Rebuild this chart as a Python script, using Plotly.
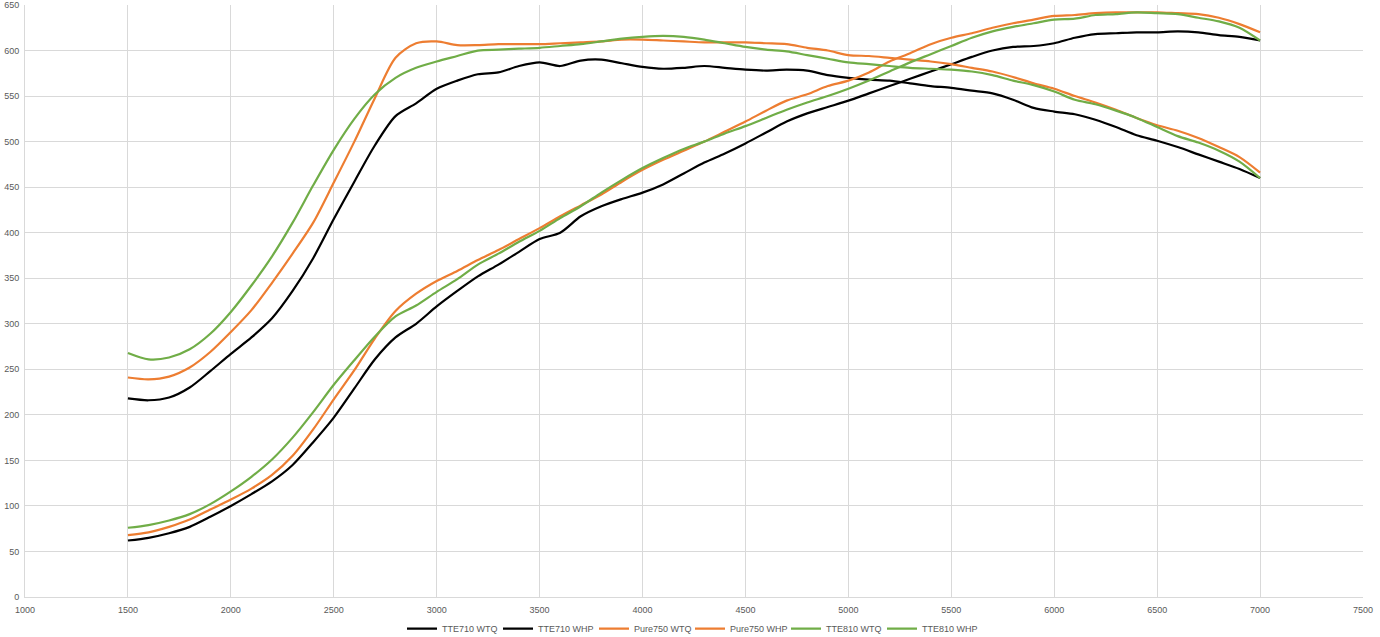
import plotly.graph_objects as go

rpm = list(range(1500, 7001, 100))

tte710_wtq = [218, 216, 219, 230, 248, 267, 285, 306, 336, 372, 415, 456, 496, 528, 542, 558, 567, 574, 576, 583,
              587, 583, 589, 590, 586, 582, 580, 581, 583, 581, 579, 578, 579, 578, 573, 570, 568, 567, 564, 561,
              559, 556, 553, 546, 537, 533, 530, 524, 516, 507, 501, 494, 486, 478, 470, 460]
tte710_whp = [62, 65, 70, 77, 88, 100, 113, 127, 145, 170, 197, 229, 261, 285, 300, 319, 336, 352, 365, 379,
              393, 400, 418, 429, 437, 444, 453, 465, 477, 487, 498, 510, 522, 531, 538, 545, 553, 561, 569, 577,
              585, 593, 600, 604, 605, 608, 614, 618, 619, 620, 620, 621, 620, 617, 615, 611]
pure750_wtq = [241, 239, 242, 252, 269, 291, 315, 345, 377, 411, 455, 500, 548, 592, 608, 610, 606, 606, 607, 607,
               607, 608, 609, 610, 612, 612, 611, 610, 609, 609, 609, 608, 607, 603, 600, 595, 594, 592, 590, 588,
               585, 581, 577, 571, 564, 558, 550, 543, 535, 526, 518, 512, 504, 494, 483, 466]
pure750_whp = [68, 71, 77, 85, 96, 107, 119, 134, 155, 184, 217, 249, 284, 314, 333, 347, 358, 370, 381, 393,
               405, 418, 430, 442, 456, 469, 480, 490, 500, 511, 522, 534, 545, 552, 561, 567, 576, 588, 597, 607,
               614, 619, 625, 630, 634, 638, 639, 641, 642, 642, 642, 641, 640, 636, 629, 620]
tte810_wtq = [268, 261, 263, 272, 289, 313, 342, 374, 411, 452, 491, 525, 552, 570, 581, 588, 594, 600, 601, 602,
              603, 605, 607, 610, 613, 615, 616, 615, 612, 608, 604, 601, 599, 595, 591, 587, 585, 583, 581, 580,
              579, 577, 573, 567, 562, 555, 546, 541, 534, 526, 516, 506, 499, 490, 478, 460]
tte810_whp = [76, 79, 84, 91, 102, 116, 132, 151, 175, 203, 233, 260, 286, 308, 320, 335, 349, 365, 377, 390,
              402, 416, 429, 444, 458, 471, 482, 492, 500, 509, 517, 526, 535, 543, 550, 558, 567, 577, 587, 596,
              605, 614, 621, 626, 630, 634, 635, 639, 640, 642, 641, 640, 636, 632, 625, 611]

series = [
    ("TTE710 WTQ", tte710_wtq, "#000000"),
    ("TTE710 WHP", tte710_whp, "#000000"),
    ("Pure750 WTQ", pure750_wtq, "#ED7D31"),
    ("Pure750 WHP", pure750_whp, "#ED7D31"),
    ("TTE810 WTQ", tte810_wtq, "#70AD47"),
    ("TTE810 WHP", tte810_whp, "#70AD47"),
]

fig = go.Figure()
for name, vals, col in series:
    fig.add_trace(go.Scatter(x=rpm, y=vals, name=name, mode="lines",
                             line=dict(color=col, width=2.2, shape="spline", smoothing=0.8)))

grid = "#d9d9d9"
tickfont = dict(family="Liberation Sans, Arial, sans-serif", size=9, color="#595959")
fig.update_layout(
    width=1380, height=637,
    margin=dict(l=25, r=17, t=5, b=40, autoexpand=False),
    paper_bgcolor="white", plot_bgcolor="white",
    showlegend=True,
    legend=dict(orientation="h", x=0.5, xanchor="center", xref="container",
                y=0.013, yanchor="middle", yref="container",
                font=dict(family="Liberation Sans, Arial, sans-serif", size=9, color="#595959"),
                itemwidth=30, entrywidth=51, entrywidthmode="pixels", tracegroupgap=0),
    xaxis=dict(range=[1000, 7500], dtick=500, tick0=1000, showgrid=True, gridcolor=grid, gridwidth=1,
               zeroline=False, showline=True, linecolor=grid, linewidth=1, automargin=False,
               ticks="", tickfont=tickfont, ticklabelstandoff=4),
    yaxis=dict(range=[0, 650], dtick=50, tick0=0, showgrid=True, gridcolor=grid, gridwidth=1,
               zeroline=False, showline=True, linecolor=grid, linewidth=1, automargin=False,
               ticks="", tickfont=tickfont, ticklabelstandoff=3),
)

fig.write_html("out.html", config={"displayModeBar": False},
               post_script="document.body.style.margin='0';")
